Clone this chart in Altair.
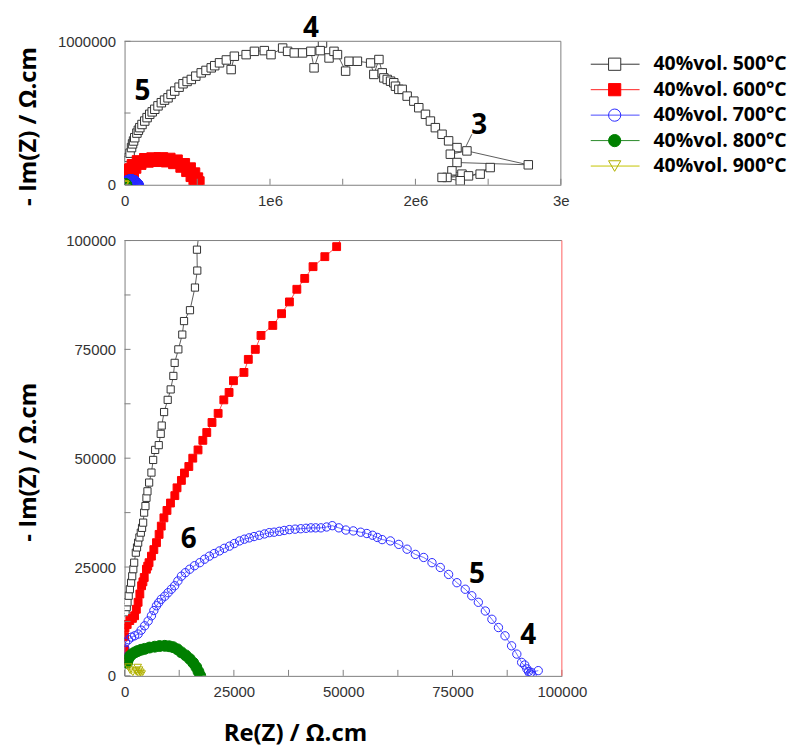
import altair as alt
import pandas as pd

NAMES = ["40%vol. 500°C", "40%vol. 600°C", "40%vol. 700°C", "40%vol. 800°C", "40%vol. 900°C"]

X500 = [100, 230, 500, 680, 950, 1220, 1500, 1750, 2000, 2200,
        2580, 2850, 3110, 3400, 3720, 4000, 4250, 4480, 4780, 5010,
        5240, 5620, 6150, 6540, 7000, 7820, 8270, 8500, 9040, 9870,
        10550, 11160, 11460, 12300, 13200, 13600, 14960, 16100, 16630, 16560,
        25000, 30000, 38000, 48000, 55000, 62000, 70000, 85000, 95000, 105000,
        120000, 139000, 155000, 173000, 190000, 208000, 230000, 253000, 275000, 299000,
        320000, 345000, 375000, 402000, 430000, 459000, 490000, 527000, 560000, 596000,
        620000, 653000, 700000, 733000, 755000, 836000, 893000, 961000, 1007000, 1087000,
        1121000, 1167000, 1224000, 1281000, 1303000, 1361000, 1345000, 1406000, 1440000, 1464000,
        1520000, 1543000, 1601000, 1692000, 1714000, 1749000, 1772000, 1783000, 1806000, 1829000,
        1851000, 1863000, 1886000, 1909000, 1943000, 1989000, 2023000, 2069000, 2103000, 2137000,
        2183000, 2228000, 2286000, 2240000, 2354000, 2776000, 2286000, 2251000, 2320000, 2217000,
        2365000, 2445000, 2514000, 2308000, 2183000]
Y500 = [13500, 14600, 15800, 16900, 18400, 19900, 21400, 22900, 24500, 26000,
        28300, 29500, 30600, 31800, 32900, 34000, 35200, 37500, 39000, 40900,
        42400, 44400, 46700, 49600, 51900, 53000, 55600, 57500, 60600, 63400,
        65800, 68900, 71900, 75000, 78400, 81500, 84000, 89200, 93100, 97900,
        167000, 190000, 220000, 259000, 285000, 305000, 328000, 360000, 380000, 398000,
        420000, 444000, 468000, 491000, 508000, 526000, 550000, 572000, 590000, 606000,
        630000, 653000, 680000, 704000, 720000, 734000, 757000, 780000, 797000, 815000,
        830000, 850000, 870000, 803000, 896000, 907000, 930000, 935000, 907000, 953000,
        930000, 919000, 919000, 930000, 815000, 988000, 935000, 884000, 930000, 907000,
        792000, 861000, 861000, 849000, 769000, 873000, 780000, 745000, 734000, 722000,
        711000, 687000, 665000, 665000, 618000, 583000, 537000, 491000, 444000, 398000,
        352000, 306000, 259000, 213000, 236000, 139000, 155000, 97000, 74000, 51000,
        62000, 74000, 120000, 28000, 51000]

X600 = [0, 0, 0, 100, 600, 1200, 1800, 2300, 2700, 3100,
        3500, 3900, 4200, 4500, 5000, 5300, 5600, 6150, 6700, 7300,
        7900, 8400, 9000, 9700, 10500, 11500, 12000, 13000, 13700, 14700,
        15600, 16800, 17900, 18800, 20000, 21400, 22700, 23900, 24900, 27300,
        28300, 29900, 31200, 33900, 35900, 37700, 39400, 41200, 43100, 45800,
        48500,
        65000, 100000, 150000, 200000, 250000, 300000, 350000, 400000, 440000,
        470000, 490000, 500000]
Y600 = [3500, 6000, 9000, 11000, 11800, 12700, 13200, 13800, 15300, 16900,
        18800, 20700, 21600, 22600, 24500, 25200, 26000, 27500, 29000, 30600,
        32500, 34400, 36300, 38000, 39700, 41400, 43200, 44900, 46600, 48100,
        50000, 51900, 54100, 55900, 58200, 60300, 63400, 65100, 67800, 69700,
        72700, 75000, 78200, 80500, 83200, 85900, 88800, 91300, 94000, 96300,
        98600,
        128000, 155000, 170000, 175000, 176000, 172000, 160000, 135000, 105000,
        70000, 35000, 8000]

X700 = [70, 70, 230, 900, 1600, 2300, 3100, 3800, 4600, 5400,
        6150, 6700, 7300, 7800, 8400, 9200, 9950, 10700, 11460, 12200,
        13000, 13900, 14900, 16000, 17200, 18300, 19400, 20500, 21700, 22800,
        24000, 25100, 26300, 27400, 28500, 29600, 30800, 32000, 33100, 34200,
        35400, 36500, 37700, 39000, 40300, 41500, 42600, 43700, 44900, 46200,
        47500, 49000, 50600, 52300, 54000, 55400, 56700, 57800, 58900, 60800,
        62700, 64600, 66500, 68400, 70300, 72200, 74100, 76000, 77900, 79400,
        80900, 82500, 84000, 85500, 87000, 88500, 89700, 90800, 92000, 92700,
        93200, 92400, 91500, 93000, 94600]
Y700 = [3900, 6200, 7700, 8300, 8900, 9200, 9600, 10500, 11500, 12600,
        13800, 15000, 16100, 16800, 17600, 18300, 19100, 19900, 20700, 21800,
        22900, 23700, 24500, 25300, 26000, 26800, 27500, 28100, 28700, 29300,
        29800, 30400, 31000, 31400, 31700, 32000, 32300, 32600, 32900, 33000,
        33200, 33400, 33600, 33700, 33800, 33900, 34000, 34000, 34000, 34200,
        34500, 34000, 33500, 33300, 33000, 32700, 32300, 31800, 31300, 31000,
        30200, 29100, 27900, 27200, 26000, 24900, 23300, 21400, 19900, 18400,
        16900, 14900, 13000, 11100, 9200, 6900, 5000, 3100, 1600, 460,
        200, 1000, 2500, 800, 1200]

X800 = [600, 840, 1200, 1700, 2350, 3000, 3800, 4600, 5700, 6900,
        8000, 9200, 10200, 11100, 12100, 13000, 14000, 14900, 15700, 16400,
        16900, 17300]
Y800 = [3000, 3900, 4500, 5000, 5400, 5700, 6000, 6200, 6500, 6700,
        6850, 6900, 6800, 6600, 6100, 5400, 4700, 3900, 3000, 2000,
        1000, 70]

X900 = [900, 1300, 1900, 2600, 3000, 3300, 3600, 3900, 3500, 3100]
Y900 = [2000, 1300, 800, 1100, 1900, 1300, 800, 400, 100, 500]

TOP_XTICKS = [0, 500000, 1000000, 1500000, 2000000, 2500000, 3000000]
TOP_XLABELS = [0, 1000000, 2000000, 3000000]
TOP_YTICKS = [0, 500000, 1000000]
TOP_YLABELS = [0, 1000000]
BOT_TICKS = [0, 12500, 25000, 37500, 50000, 62500, 75000, 87500, 100000]
BOT_LABELS = [0, 25000, 50000, 75000, 100000]

TOP_NOTES = ["4", "5", "3"]
TOP_NOTE_X = [1281000, 123000, 2438000]
TOP_NOTE_Y = [1083000, 646000, 410000]
POINTER_X = [2388000]
POINTER_Y = [352000]
POINTER_X2 = [2349000]
POINTER_Y2 = [271000]
BOT_NOTES = ["6", "5", "4"]
BOT_NOTE_X = [14700, 80600, 92300]
BOT_NOTE_Y = [31300, 23100, 9150]

MARK_COLORS = ["#333333", "#ff0000", "#2a2aff", "#008000", "#b0b000"]
LINE_COLORS = ["#333333", "#ff2020", "#4a4aff", "#2a8a2a", "#c4c400"]
FILLS = ["white", "#ff0000", None, "#008000", None]
SHAPES = ["square", "square", "circle", "circle", "triangle-down"]

FONT = "Open Sans"
LFONT = "Liberation Sans"
AXC = "#808080"

XS = [X500, X600, X700, X800, X900]
YS = [Y500, Y600, Y700, Y800, Y900]
rows = []
for k, name in enumerate(NAMES):
    for i, (x, y) in enumerate(zip(XS[k], YS[k])):
        rows.append({"s": name, "k": k, "i": i, "x": x, "y": y})
df = pd.DataFrame(rows)


def point_kw(k, size, clip=True):
    kw = dict(shape=SHAPES[k], size=size, strokeWidth=1, opacity=1,
              stroke=MARK_COLORS[k], clip=clip)
    if FILLS[k] is None:
        kw["filled"] = False
        kw["fill"] = "transparent"
        kw["color"] = MARK_COLORS[k]
    else:
        kw["filled"] = True
        kw["fill"] = FILLS[k]
    return kw


def panel(xdom, ydom, w, h, xaxis, yaxis, xticks, yticks, sizes, notes, right_color):
    xs = alt.Scale(domain=xdom, nice=False, zero=False)
    ys = alt.Scale(domain=ydom, nice=False, zero=False)
    X = lambda f: alt.X(f + ":Q", scale=xs, axis=xaxis)
    Y = lambda f: alt.Y(f + ":Q", scale=ys, axis=yaxis)
    layers = []
    for k, name in enumerate(NAMES):
        base = alt.Chart(df[df.s == name]).encode(x=X("x"), y=Y("y"), order="i:Q")
        layers.append(base.mark_line(color=LINE_COLORS[k], strokeWidth=0.8, clip=True))
        layers.append(base.mark_point(**point_kw(k, sizes[k])))
    tx = pd.DataFrame({"x": xticks})
    ty = pd.DataFrame({"y": yticks})
    layers.append(alt.Chart(tx).mark_rule(color=AXC, strokeWidth=1).encode(
        x=X("x"), y=alt.value(h), y2=alt.value(h - 6)))
    layers.append(alt.Chart(ty).mark_rule(color=AXC, strokeWidth=1).encode(
        y=Y("y"), x=alt.value(0), x2=alt.value(6)))
    layers.append(alt.Chart(pd.DataFrame({"y": [ydom[1]]})).mark_rule(color=AXC, strokeWidth=1).encode(
        y=Y("y"), x=alt.value(0), x2=alt.value(w)))
    layers.append(alt.Chart(pd.DataFrame({"x": [xdom[1]]})).mark_rule(color=right_color, strokeWidth=1).encode(
        x=X("x"), y=alt.value(0), y2=alt.value(h)))
    layers.append(alt.Chart(notes).mark_text(font=FONT, fontSize=28, fontWeight="bold", clip=False,
                                              color="black", baseline="middle", align="center").encode(
        x=X("x"), y=Y("y"), text="t:N"))
    return alt.layer(*layers).properties(width=w, height=h)


def xaxis(values, title=None, labelExpr=None, **kw):
    d = dict(values=values, grid=False, ticks=False, tickSize=0, domainColor=AXC, domainWidth=1,
             labelFont=LFONT, labelFontSize=15, labelColor="#333333", labelPadding=9,
             labelFlush=False, format="d")
    if labelExpr:
        d["labelExpr"] = labelExpr
    if title:
        d.update(title=title, titleFont=FONT, titleFontSize=24, titleFontWeight="bold",
                 titleColor="black", **kw)
    else:
        d["title"] = None
    return alt.Axis(**d)


def yaxis(values, titleY):
    return alt.Axis(values=values, grid=False, ticks=False, tickSize=0, domainColor=AXC, domainWidth=1,
                    labelFont=LFONT, labelFontSize=15, labelColor="#333333", labelPadding=9,
                    title="- Im(Z) / Ω.cm", titleFont=FONT, titleFontSize=24, titleFontWeight="bold",
                    titleColor="black", titleX=-96, titleY=titleY, titleBaseline="middle",
                    titleAlign="center", titleAngle=-90, format="d")


top_notes = pd.DataFrame({"t": TOP_NOTES, "x": TOP_NOTE_X, "y": TOP_NOTE_Y})
top = panel([0, 3000000], [0, 1000000], 438, 144,
            xaxis(TOP_XLABELS, labelExpr="datum.value == 0 ? '0' : datum.value == 3000000 ? '3e' : format(datum.value / 1000000, 'd') + 'e6'"),
            yaxis(TOP_YLABELS, 85), TOP_XTICKS, TOP_YTICKS,
            [72, 190, 100, 90, 60], top_notes, AXC)
pointer = alt.Chart(pd.DataFrame({"x": POINTER_X, "y": POINTER_Y, "x2": POINTER_X2, "y2": POINTER_Y2})).mark_rule(
    color="#333333", strokeWidth=0.8).encode(
    x=alt.X("x:Q", scale=alt.Scale(domain=[0, 3000000], nice=False, zero=False)),
    y=alt.Y("y:Q", scale=alt.Scale(domain=[0, 1000000], nice=False, zero=False)),
    x2="x2:Q", y2="y2:Q")
top = alt.layer(top, pointer)

bot_notes = pd.DataFrame({"t": BOT_NOTES, "x": BOT_NOTE_X, "y": BOT_NOTE_Y})
bottom = panel([0, 100000], [0, 100000], 439, 437,
               xaxis(BOT_LABELS, title="Re(Z) / Ω.cm", titleX=171, titleY=58, titleBaseline="middle"),
               yaxis(BOT_LABELS, 222), BOT_TICKS, BOT_TICKS,
               [52, 62, 70, 120, 60], bot_notes, "#ff6060")

# legend panel
legdf = pd.DataFrame({"name": NAMES, "k": list(range(5))})
LY = alt.Y("k:Q", scale=alt.Scale(domain=[-0.9, 4.5], reverse=True, nice=False, zero=False), axis=None)
leg_layers = []
for k, name in enumerate(NAMES):
    d = legdf[legdf.k == k]
    leg_layers.append(alt.Chart(d).mark_rule(color=LINE_COLORS[k], strokeWidth=1).encode(
        y=LY, x=alt.value(0), x2=alt.value(49)))
    leg_layers.append(alt.Chart(d).mark_point(**point_kw(k, 150, clip=False)).encode(
        y=LY, x=alt.value(24)))
leg_layers.append(alt.Chart(legdf).mark_text(font=FONT, fontSize=19.5, fontWeight="bold", color="black",
                                             align="left", baseline="middle").encode(
    y=LY, x=alt.value(63), text="name:N"))
legend = alt.layer(*leg_layers).properties(width=120, height=138)

chart = alt.vconcat(
    alt.hconcat(top, legend, spacing=20),
    bottom, spacing=25
).properties(padding={"left": 8, "top": 6, "right": 0, "bottom": 6}).configure_view(stroke=None)

chart.save("out.html", embed_options={"renderer": "svg", "actions": False})
